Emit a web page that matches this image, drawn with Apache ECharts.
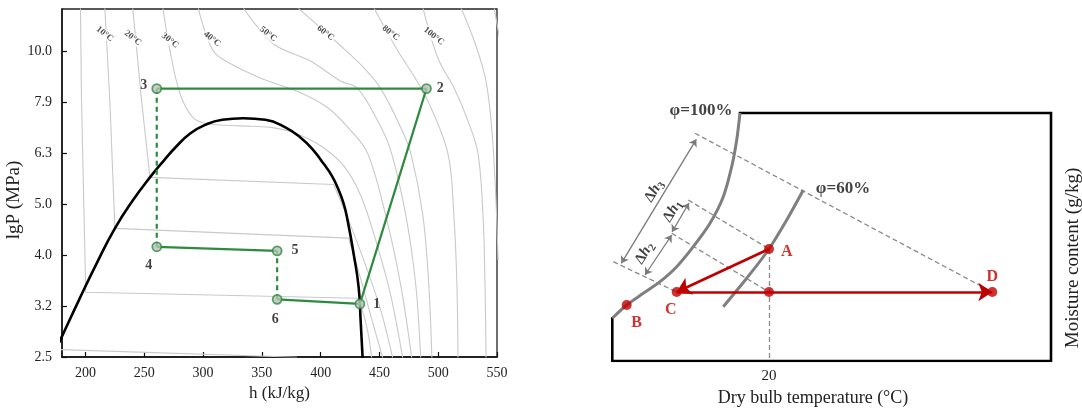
<!DOCTYPE html>
<html><head><meta charset="utf-8">
<script src="https://cdn.jsdelivr.net/npm/echarts@6/dist/echarts.min.js"></script>
<style>html,body{margin:0;padding:0;background:#fff}#c{width:1082px;height:414px}</style>
</head><body><div id="c"></div><script>
// ---------------- LEFT: lgP-h diagram (CO2) ----------------
const hTicks = [200, 250, 300, 350, 400, 450, 500, 550];
const lgPTicks = [0.4, 0.5, 0.6, 0.7, 0.8, 0.9, 1.0];
const lgPTickLabels = ['2.5', '3.2', '4.0', '5.0', '6.3', '7.9', '10.0'];

// saturation dome [h, lgP]
const dome = [[177.5,0.428],[179.7,0.439],[194.3,0.511],[209.6,0.584],[225.0,0.652],[240.3,0.707],[254.8,0.752],[265.9,0.783],[277.0,0.812],[289.0,0.838],[301.8,0.855],[316.3,0.865],[334.2,0.868],[353.0,0.865],[370.0,0.850],[382.8,0.830],[393.9,0.805],[402.4,0.779],[409.3,0.756],[414.4,0.732],[419.5,0.701],[422.9,0.668],[428.0,0.603],[432.3,0.537],[434.0,0.472],[435.7,0.398]];

// isotherms: liquid + two-phase part (straight) and vapour part (curved)
const isoM10 = [[178,0.4145],[380,0.3995]];
const iso0Liq = [[195.7,1.085],[196.6,0.902],[200.2,0.527],[432.3,0.515]];
const iso0Vap = [[432.3,0.515],[437.4,0.476],[440.8,0.441],[443.4,0.398]];
const iso10Liq = [[216.4,1.085],[220.7,0.902],[225.0,0.652],[423.7,0.633]];
const iso10Vap = [[423.7,0.633],[433.1,0.561],[442.5,0.482],[452.8,0.398]];
const iso20Liq = [[240.1,1.085],[247.7,0.902],[254.8,0.752],[411.0,0.738]];
const iso20Vap = [[411.0,0.738],[425.5,0.658],[439.1,0.574],[451.1,0.492],[461.3,0.398]];
const iso30 = [[265.7,1.085],[271.9,1.0],[280.4,0.916],[291.5,0.869],[303.5,0.857],[331.6,0.853],[357.2,0.850],[376.8,0.840],[399.9,0.814],[419.5,0.775],[434.0,0.717],[446.8,0.629],[459.6,0.521],[469.8,0.398]];
const iso40 = [[295.8,1.085],[308.6,1.0],[323.1,0.975],[348.6,0.947],[382.8,0.918],[405.8,0.889],[425.5,0.844],[440.0,0.799],[455.3,0.678],[468.1,0.541],[477.5,0.398]];
const iso50 = [[333.9,1.085],[359.8,1.014],[391.3,0.980],[416.9,0.941],[431.5,0.926],[448.5,0.863],[459.6,0.805],[472.4,0.678],[480.9,0.541],[485.1,0.398]];
const iso60 = [[380.2,1.085],[416.9,1.010],[436.6,0.967],[451.1,0.926],[468.1,0.850],[476.7,0.799],[486.9,0.678],[492.0,0.541],[494.6,0.398]];
const iso80 = [[445.1,1.085],[465.6,1.0],[479.2,0.951],[491.2,0.902],[508.2,0.799],[513.3,0.678],[515.9,0.541],[516.8,0.398]];
const iso100 = [[486.9,1.085],[499.7,0.986],[513.3,0.928],[525.3,0.863],[533.8,0.799],[538.1,0.678],[539.8,0.541],[540.7,0.398]];
const iso120 = [[519.3,1.085],[532.1,1.010],[540.6,0.941],[545.7,0.844],[549.1,0.707],[550.9,0.590]];
const iso140 = [[547.5,1.085],[552.6,1.020]];

const isoLabelText = ['10°C','20°C','30°C','40°C','50°C','60°C','80°C','100°C'];
const isoLabelH = [216.4, 240.3, 271.9, 307.7, 355.5, 404.1, 459.6, 496.3];
const isoLabelLgP = [1.033, 1.025, 1.020, 1.023, 1.033, 1.035, 1.035, 1.029];

// refrigeration cycle state points
const cycleNames = ['1','2','3','4','5','6'];
const cycleH = [433.4, 490.0, 260.6, 260.6, 363.0, 363.0];
const cycleLgP = [0.504, 0.926, 0.926, 0.616, 0.608, 0.513];
const solidPaths = [['3','2','1','6'], ['5','4']];
const dashedPaths = [['6','5'], ['4','3']];

// ---------------- RIGHT: psychrometric sketch ----------------
const xTickRight = [20];
const sat100 = [[17.1,24.8],[16.77,22.1],[16.27,19.43],[15.43,16.43],[14.1,13.77],[12.43,11.43],[10.77,9.43],[9.1,7.93],[7.43,6.77],[5.77,5.6],[4.33,4.27]];
const rh60 = [[23.43,17.1],[21.77,14.1],[20.0,11.2],[17.77,8.27],[15.43,5.43]];
const chartFrame = [[17.1,24.8],[48.2,24.8],[48.2,0],[4.33,0],[4.33,4.27]];
const ptNames = ['A','B','C','D',''];
const ptT = [20.0, 5.77, 10.77, 42.33, 20.0];
const ptW = [11.2, 5.6, 6.9, 6.9, 6.9];
const enthalpyLines = [[[12.6,22.77],[42.33,6.9]], [[11.93,16.1],[20,11.2]], [[10.27,12.77],[20,6.9]], [[4.43,9.93],[10.77,6.9]], [[20,11.2],[20,0]]];
const dimArrows = [[[5.23,9.77],[12.73,22.17]], [[10.3,12.9],[12.0,15.8]], [[7.6,8.6],[10.27,12.6]]];
const processArrows = [[[20,11.2],[10.77,6.9]], [[10.77,6.9],[42.33,6.9]]];
const dimLabels = ['3','1','2'];
const dimLabelT = [8.5, 10.35, 7.55];
const dimLabelW = [17.0, 15.0, 10.8];
const phiLabels = ['φ=100%', 'φ=60%'];
const phiLabelT = [13.2, 27.4];
const phiLabelW = [25.0, 17.2];

// ---------------- build option ----------------
const F = 'Liberation Serif, "Times New Roman", serif';
const GREEN = '#2e8b3e', RED = '#c00000', ISO = '#c9c9c9', GRAYC = '#7f7f7f';
const idx = n => cycleNames.indexOf(n);
const cpt = n => [cycleH[idx(n)], cycleLgP[idx(n)]];

const series = [];
const isoStraight = [isoM10, iso0Liq, iso10Liq, iso20Liq];
const isoCurved = [iso0Vap, iso10Vap, iso20Vap, iso30, iso40, iso50, iso60, iso80, iso100, iso120, iso140];
isoStraight.forEach(d => series.push({type:'line', xAxisIndex:0, yAxisIndex:0, data:d, symbol:'none', silent:true, lineStyle:{color:ISO, width:1.1}, z:1}));
isoCurved.forEach(d => series.push({type:'line', xAxisIndex:0, yAxisIndex:0, data:d, smooth:0.35, symbol:'none', silent:true, lineStyle:{color:ISO, width:1.1}, z:1}));
series.push({type:'scatter', xAxisIndex:0, yAxisIndex:0, symbolSize:0, silent:true, z:3,
  data: isoLabelText.map((t,i)=>({value:[isoLabelH[i], isoLabelLgP[i]], name:t})),
  label:{show:true, position:'inside', formatter:p=>p.name, rotate:-38, fontFamily:F, fontSize:9, fontWeight:'bold', color:'#222', backgroundColor:'#fff', padding:[0,1]}});
series.push({type:'line', xAxisIndex:0, yAxisIndex:0, data:dome, smooth:0.5, symbol:'none', silent:true, lineStyle:{color:'#000', width:2.6}, z:4});
solidPaths.forEach(p => series.push({type:'line', xAxisIndex:0, yAxisIndex:0, data:p.map(cpt), symbol:'none', silent:true, lineStyle:{color:GREEN, width:2.2}, z:5}));
dashedPaths.forEach(p => series.push({type:'line', xAxisIndex:0, yAxisIndex:0, data:p.map(cpt), symbol:'none', silent:true, lineStyle:{color:GREEN, width:2.2, type:[5,4]}, z:5}));
const cycLabel = {
  '1':{position:'right', distance:8},
  '2':{position:'right', distance:5},
  '3':{position:'left', distance:4, offset:[0,-3]},
  '4':{position:'bottom', distance:6, offset:[-8,0]},
  '5':{position:'right', distance:9},
  '6':{position:'bottom', distance:8, offset:[-2,0]}
};
series.push({type:'scatter', xAxisIndex:0, yAxisIndex:0, symbol:'circle', symbolSize:9, silent:true, z:6,
  itemStyle:{color:'#b9c2b9', borderColor:GREEN, borderWidth:1.8},
  label:{show:true, formatter:p=>p.name, fontFamily:F, fontSize:14, fontWeight:'bold', color:'#111'},
  data: cycleNames.map((n,i)=>({name:n, value:[cycleH[i], cycleLgP[i]], label:cycLabel[n]}))});

// right chart
series.push({type:'lines', coordinateSystem:'cartesian2d', xAxisIndex:1, yAxisIndex:1, silent:true, z:2,
  symbol:['none','none'], lineStyle:{color:'#8a8a8a', width:1.3, type:[5,3], opacity:1},
  data: enthalpyLines.map(c=>({coords:c}))});
series.push({type:'line', xAxisIndex:1, yAxisIndex:1, data:chartFrame, symbol:'none', silent:true, lineStyle:{color:'#000', width:2.6, cap:'square', join:'miter'}, z:3});
series.push({type:'line', xAxisIndex:1, yAxisIndex:1, data:sat100, smooth:0.3, symbol:'none', silent:true, lineStyle:{color:GRAYC, width:3}, z:3});
series.push({type:'line', xAxisIndex:1, yAxisIndex:1, data:rh60, smooth:0.3, symbol:'none', silent:true, lineStyle:{color:GRAYC, width:3}, z:3});
series.push({type:'lines', coordinateSystem:'cartesian2d', xAxisIndex:1, yAxisIndex:1, silent:true, z:4,
  symbol:['arrow','arrow'], symbolSize:7, lineStyle:{color:'#7a7a7a', width:1.3, opacity:1},
  data: dimArrows.map(c=>({coords:c}))});
series.push({type:'lines', coordinateSystem:'cartesian2d', xAxisIndex:1, yAxisIndex:1, silent:true, z:5,
  symbol:['none','arrow'], symbolSize:14, lineStyle:{color:RED, width:2.6, opacity:1},
  data: processArrows.map(c=>({coords:c}))});
const ptLabel = {
  'A':{position:'right', distance:7, offset:[0,3]},
  'B':{position:'bottom', distance:5, offset:[10,0]},
  'C':{position:'bottom', distance:5, offset:[-6,0]},
  'D':{position:'top', distance:2},
  '':{show:false}
};
series.push({type:'scatter', xAxisIndex:1, yAxisIndex:1, symbol:'circle', symbolSize:10, silent:true, z:6,
  itemStyle:{color:RED},
  label:{show:true, formatter:p=>p.name, fontFamily:F, fontSize:16, fontWeight:'bold', color:RED},
  data: ptNames.map((n,i)=>({name:n, value:[ptT[i], ptW[i]], label:ptLabel[n]}))});
series.push({type:'scatter', xAxisIndex:1, yAxisIndex:1, symbolSize:0, silent:true, z:7,
  label:{show:true, position:'inside', formatter:p=>'{d|Δ}{h|h}{s|'+p.name+'}', rotate:58,
    rich:{d:{fontFamily:F, fontSize:15, fontWeight:'bold', color:'#111'},
          h:{fontFamily:F, fontSize:15, fontWeight:'bold', fontStyle:'italic', color:'#111'},
          s:{fontFamily:F, fontSize:11, fontWeight:'bold', color:'#111', padding:[8,0,0,0]}}},
  data: dimLabels.map((n,i)=>({name:n, value:[dimLabelT[i], dimLabelW[i]]}))});
series.push({type:'scatter', xAxisIndex:1, yAxisIndex:1, symbolSize:0, silent:true, z:7,
  label:{show:true, position:'inside', formatter:p=>p.name, fontFamily:F, fontSize:17, fontWeight:'bold', color:'#111'},
  data: phiLabels.map((n,i)=>({name:n, value:[phiLabelT[i], phiLabelW[i]]}))});

const option = {
  animation:false,
  backgroundColor:'#fff',
  grid:[
    {left:62, top:9, width:435, height:348, show:true, borderColor:'#222', borderWidth:1.3, backgroundColor:'transparent', outerBoundsMode:'none', containLabel:false},
    {left:589, top:91, width:470, height:270, show:false, outerBoundsMode:'none', containLabel:false}
  ],
  xAxis:[
    {type:'value', gridIndex:0, min:180, max:550,
      axisLine:{show:true, onZero:false, lineStyle:{color:'#111', width:1.5}},
      axisTick:{show:true, inside:true, length:5, customValues:hTicks, lineStyle:{color:'#111', width:1.2}},
      axisLabel:{customValues:hTicks, fontFamily:F, fontSize:14, color:'#222', margin:9},
      splitLine:{show:false},
      name:'h (kJ/kg)', nameLocation:'middle', nameGap:27, nameTextStyle:{fontFamily:F, fontSize:17, color:'#222'}},
    {type:'value', gridIndex:1, min:2, max:49,
      axisLine:{show:false}, axisTick:{show:false},
      axisLabel:{customValues:xTickRight, fontFamily:F, fontSize:15, color:'#222', margin:8},
      splitLine:{show:false},
      name:'Dry bulb temperature (°C)', nameLocation:'middle', nameGap:27,
      nameTextStyle:{fontFamily:F, fontSize:18, color:'#222', padding:[0,22,0,0]}}
  ],
  yAxis:[
    {type:'value', gridIndex:0, min:0.4, max:1.082,
      axisLine:{show:true, onZero:false, lineStyle:{color:'#111', width:1.5}},
      axisTick:{show:true, inside:true, length:5, customValues:lgPTicks, lineStyle:{color:'#111', width:1.2}},
      axisLabel:{customValues:lgPTicks, formatter:v=>lgPTickLabels[Math.round((v-0.4)*10)], fontFamily:F, fontSize:14, color:'#222', margin:10},
      splitLine:{show:false},
      name:'lgP (MPa)', nameLocation:'middle', nameGap:34, nameRotate:90,
      nameTextStyle:{fontFamily:F, fontSize:19, color:'#222', padding:[0,34,0,0]}},
    {type:'value', gridIndex:1, min:0, max:27, position:'right',
      axisLine:{show:false}, axisTick:{show:false}, axisLabel:{show:false}, splitLine:{show:false},
      name:'Moisture content (g/kg)', nameLocation:'middle', nameGap:5, nameRotate:90,
      nameTextStyle:{fontFamily:F, fontSize:19, color:'#222', padding:[0,64,0,0]}}
  ],
  series: series
};
const chart = echarts.init(document.getElementById('c'), null, {renderer:'canvas'});
chart.setOption(option);
</script></body></html>
